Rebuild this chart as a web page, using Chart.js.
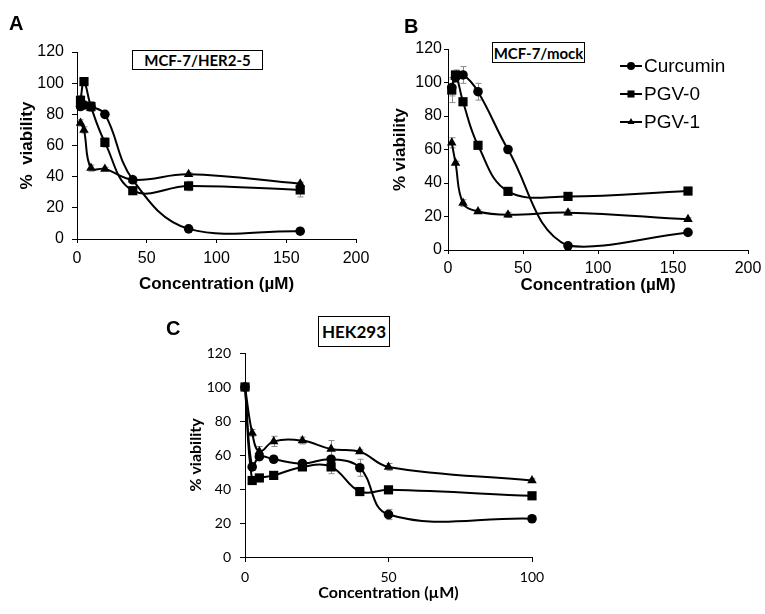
<!DOCTYPE html>
<html>
<head>
<meta charset="utf-8">
<script src="https://cdn.jsdelivr.net/npm/chart.js@4.4.1/dist/chart.umd.min.js"></script>
<style>
  body { margin: 0; background: #fff; }
  #wrap { position: relative; width: 765px; height: 614px; background: #fff; overflow: hidden; }
  canvas { position: absolute; }
  .lbl { position: absolute; font: bold 20px "Liberation Sans", Arial, sans-serif; color: #000; line-height: 1; }
  .box { position: absolute; border: 1px solid #000; background: #fff; font-family: Lato, sans-serif; font-weight: bold;
         color: #000; display: flex; align-items: center; justify-content: center; box-sizing: border-box; }
</style>
</head>
<body>
<div id="wrap">
  <canvas id="chartA" width="380" height="305" style="left:0;top:0;width:380px;height:305px"></canvas>
  <canvas id="chartB" width="385" height="305" style="left:380px;top:0;width:385px;height:305px"></canvas>
  <canvas id="chartC" width="480" height="304" style="left:150px;top:310px;width:480px;height:304px"></canvas>

  <div class="lbl" style="left:9px;top:13px">A</div>
  <div class="lbl" style="left:404px;top:16px">B</div>
  <div class="lbl" style="left:166px;top:318px">C</div>

  <div class="box" style="left:132px;top:50px;width:131px;height:20px;font-size:15px">MCF-7/HER2-5</div>
  <div class="box" style="left:492px;top:42px;width:93px;height:21px;font-size:15px">MCF-7/mock</div>
  <div class="box" style="left:318px;top:316px;width:72px;height:31px;font-size:17px">HEK293</div>
</div>
<script>
// ---------- données ----------
const seriesLabels = ["Curcumin", "PGV-0", "PGV-1"];
const markers = ["circle", "rect", "triangle"];

// A : MCF-7/HER2-5
const concA = [2.5, 5, 10, 20, 40, 80, 160];
const curcuminA = [85, 86, 85, 80, 38, 6.5, 5];
const pgv0A = [89, 101, 85, 62, 31, 34, 31.5];
const pgv1A = [74.5, 70, 45.5, 45, 38, 41.5, 35.5];
const errCurA = [2, 2, 3, 1, 1, 1, 1];
const errPgv0A = [3, 2, 3, 3, 2, 3, 4.5];
const errPgv1A = [2, 2, 2, 1, 1, 1, 1];

// B : MCF-7/mock
const concB = [2.5, 5, 10, 20, 40, 80, 160];
const curcuminB = [97, 103, 104.5, 94.5, 60, 2.5, 10.5];
const pgv0B = [95.5, 104.5, 88.5, 62.5, 35, 32, 35.2];
const pgv1B = [64, 52, 28, 23, 21, 22.3, 18.3];
const errCurB = [5, 3, 5, 5, 1, 1, 1];
const errPgv0B = [7.5, 3, 2, 1, 1, 1, 1];
const errPgv1B = [3, 1, 2, 1, 1.5, 1.5, 1];

// C : HEK293
const concC = [0, 2.5, 5, 10, 20, 30, 40, 50, 100];
const curcuminC = [100, 53, 59, 57.5, 55, 57.5, 52.5, 25, 22.5];
const pgv0C = [100, 45, 46.5, 48, 53, 53, 38.5, 39.5, 36];
const pgv1C = [100, 73, 62, 68, 68.5, 63.5, 62, 53, 45];
const errCurC = [0, 2, 2, 1, 1, 2, 5, 3, 1];
const errPgv0C = [0, 1, 1, 1, 1, 4, 1, 1, 1];
const errPgv1C = [0, 2, 3, 3, 2, 5, 1, 2, 1];

// ---------- plugins ----------
const errorBars = {
  id: 'errorBars',
  beforeDatasetsDraw(chart) {
    const { ctx, scales: { x, y } } = chart;
    ctx.save();
    ctx.strokeStyle = '#8a8a8a';
    ctx.lineWidth = 1;
    chart.data.datasets.forEach(ds => {
      (ds.errors || []).forEach((e, i) => {
        if (!e) return;
        const p = ds.data[i];
        const px = Math.round(x.getPixelForValue(p.x)) + 0.5;
        const top = y.getPixelForValue(p.y + e);
        const bot = y.getPixelForValue(p.y - e);
        ctx.beginPath();
        ctx.moveTo(px, top); ctx.lineTo(px, bot);
        ctx.moveTo(px - 3, top); ctx.lineTo(px + 3, top);
        ctx.moveTo(px - 3, bot); ctx.lineTo(px + 3, bot);
        ctx.stroke();
      });
    });
    ctx.restore();
  }
};

const sideLegend = {
  id: 'sideLegend',
  afterDraw(chart) {
    const { ctx } = chart;
    const x0 = 240, y0 = 66, step = 28;
    ctx.save();
    chart.data.datasets.forEach((ds, i) => {
      const y = y0 + i * step;
      ctx.strokeStyle = '#000';
      ctx.fillStyle = '#000';
      ctx.lineWidth = 2;
      ctx.beginPath();
      ctx.moveTo(x0, y); ctx.lineTo(x0 + 22, y);
      ctx.stroke();
      Chart.helpers.drawPoint(ctx, { pointStyle: ds.pointStyle, radius: ds.pointStyle === 'rect' ? 5 : 4, rotation: 0, borderWidth: 0 }, x0 + 11, y);
      ctx.font = '19px "Liberation Sans", Arial, sans-serif';
      ctx.textBaseline = 'middle';
      ctx.fillText(ds.label, x0 + 24, y + 1);
    });
    ctx.restore();
  }
};

// ---------- construction ----------
function makeDatasets(conc, values, errors) {
  return values.map((vals, i) => ({
    label: seriesLabels[i],
    data: conc.map((c, j) => ({ x: c, y: vals[j] })),
    errors: errors[i],
    pointStyle: markers[i],
    pointRadius: markers[i] === 'rect' ? 6.5 : markers[i] === 'triangle' ? 5.5 : 4.8,
    borderColor: '#000',
    backgroundColor: '#000',
    pointBackgroundColor: '#000',
    pointBorderColor: '#000',
    pointBorderWidth: 0,
    borderWidth: 2,
    tension: 0.4,
    clip: false
  }));
}

function makeChart(id, datasets, cfg, plugins) {
  const tickFont = { family: cfg.family, size: cfg.tickSize };
  const titleFont = { family: cfg.family, size: cfg.titleSize, weight: 'bold' };
  return new Chart(document.getElementById(id).getContext('2d'), {
    type: 'line',
    data: { datasets },
    plugins: [errorBars].concat(plugins || []),
    options: {
      responsive: false,
      animation: false,
      layout: { padding: cfg.padding },
      plugins: { legend: { display: false }, tooltip: { enabled: false } },
      scales: {
        x: {
          type: 'linear', min: 0, max: cfg.xMax,
          ticks: { stepSize: 50, color: '#000', font: tickFont, padding: cfg.xTickPad, maxRotation: 0 },
          grid: { drawOnChartArea: false, drawTicks: true, tickLength: cfg.xTickLen, color: '#000' },
          border: { color: '#000', width: 1 },
          title: { display: true, text: 'Concentration (µM)', color: '#000', font: titleFont, padding: { top: 0, bottom: cfg.xTitlePad } },
          afterFit(s) { s.height = cfg.xHeight; s.paddingLeft = 0; s.paddingRight = 0; }
        },
        y: {
          min: 0, max: 120,
          ticks: { stepSize: 20, color: '#000', font: tickFont, padding: cfg.yTickPad },
          grid: { drawOnChartArea: false, drawTicks: true, tickLength: cfg.yTickLen, color: '#000' },
          border: { color: '#000', width: 1 },
          title: { display: true, text: cfg.yTitle, color: '#000', font: titleFont, padding: { top: cfg.yTitlePad, bottom: 0 } },
          afterFit(s) { s.width = cfg.yWidth; s.paddingTop = 0; s.paddingBottom = 0; }
        }
      }
    }
  });
}

window.addEventListener('DOMContentLoaded', () => {
  makeChart('chartA',
    makeDatasets(concA, [curcuminA, pgv0A, pgv1A], [errCurA, errPgv0A, errPgv1A]),
    { family: '"Liberation Sans", Arial, sans-serif', tickSize: 16, titleSize: 17, xMax: 200,
      padding: { left: 0, top: 52, right: 24, bottom: 0 },
      xHeight: 66, yWidth: 77, xTickLen: 4, yTickLen: 5, xTickPad: 6, yTickPad: 8,
      xTitlePad: 10, yTitlePad: 17, yTitle: '%  viability' });

  makeChart('chartB',
    makeDatasets(concB, [curcuminB, pgv0B, pgv1B], [errCurB, errPgv0B, errPgv1B]),
    { family: '"Liberation Sans", Arial, sans-serif', tickSize: 16, titleSize: 17, xMax: 200,
      padding: { left: 0, top: 49, right: 17, bottom: 0 },
      xHeight: 55, yWidth: 68, xTickLen: 4, yTickLen: 4, xTickPad: 5, yTickPad: 2,
      xTitlePad: 9, yTitlePad: 10, yTitle: '% viability' },
    [sideLegend]);

  makeChart('chartC',
    makeDatasets(concC, [curcuminC, pgv0C, pgv1C], [errCurC, errPgv0C, errPgv1C]),
    { family: 'Lato, sans-serif', tickSize: 14, titleSize: 16, xMax: 100,
      padding: { left: 0, top: 43, right: 98, bottom: 0 },
      xHeight: 57, yWidth: 95, xTickLen: 5, yTickLen: 5, xTickPad: 7, yTickPad: 9,
      xTitlePad: 12, yTitlePad: 36, yTitle: '% viability' });
});
</script>
</body>
</html>
